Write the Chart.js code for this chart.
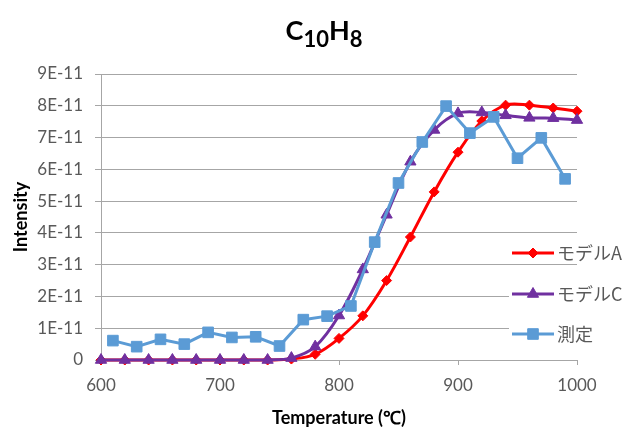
<!DOCTYPE html>
<html>
<head>
<meta charset="utf-8">
<script src="https://cdn.jsdelivr.net/npm/chart.js@4.4.1/dist/chart.umd.min.js"></script>
<style>
  html, body { margin: 0; padding: 0; background: #fff; }
  #wrap { width: 632px; height: 432px; position: relative; }
</style>
</head>
<body>
<div id="wrap"><canvas id="c" width="632" height="432"></canvas></div>
<script>
// Temperatures (°C) and intensities in units of 1E-11
const modelTemps = [600, 620, 640, 660, 680, 700, 720, 740, 760, 780, 800, 820, 840, 860, 880, 900, 920, 940, 960, 980, 1000];
const modelA = [0, 0, 0, 0, 0, 0, 0, 0, 0.03, 0.18, 0.68, 1.39, 2.50, 3.87, 5.29, 6.54, 7.52, 8.02, 8.02, 7.93, 7.83];
const modelC = [0, 0, 0, 0, 0, 0, 0, 0, 0.06, 0.42, 1.40, 2.85, 4.57, 6.24, 7.24, 7.76, 7.79, 7.70, 7.62, 7.61, 7.55];
const measuredTemps = [610, 630, 650, 670, 690, 710, 730, 750, 770, 790, 810, 830, 850, 870, 890, 910, 930, 950, 970, 990];
const measured = [0.61, 0.42, 0.65, 0.50, 0.87, 0.71, 0.73, 0.44, 1.27, 1.38, 1.70, 3.71, 5.57, 6.86, 7.99, 7.14, 7.65, 6.35, 6.99, 5.70];

const xTicks = [600, 700, 800, 900, 1000];
const yTicks = [0, 1, 2, 3, 4, 5, 6, 7, 8, 9];
const seriesNames = ['モデルA', 'モデルC', '測定'];
const seriesColors = ['#ff0000', '#7030a0', '#5b9bd5'];
const titleParts = [['C', false], ['10', true], ['H', false], ['8', true]];

const gridColor = '#a6a6a6';
const tickColor = '#595959';

function pts(xs, ys) { return xs.map((x, i) => ({ x: x, y: ys[i] })); }

// Title with subscripts
const titlePlugin = {
  id: 'formulaTitle',
  afterDraw(chart) {
    const ctx = chart.ctx;
    const mainFont = 'bold 27px Lato';
    const subFont = 'bold 22px Lato';
    ctx.save();
    let total = 0;
    const widths = titleParts.map(([t, sub]) => {
      ctx.font = sub ? subFont : mainFont;
      const w = ctx.measureText(t).width;
      total += w;
      return w;
    });
    let x = 324 - total / 2;
    ctx.fillStyle = '#000';
    ctx.textBaseline = 'alphabetic';
    ctx.textAlign = 'left';
    titleParts.forEach(([t, sub], i) => {
      ctx.font = sub ? subFont : mainFont;
      ctx.fillText(t, x, sub ? 47 : 40);
      x += widths[i];
    });
    ctx.restore();
  }
};

// Legend box at the lower right of the plot
function drawMarker(ctx, style, x, y, color) {
  ctx.fillStyle = color;
  ctx.strokeStyle = color;
  ctx.lineWidth = 1;
  ctx.beginPath();
  if (style === 'rectRot') {
    ctx.moveTo(x, y - 5); ctx.lineTo(x + 5, y); ctx.lineTo(x, y + 5); ctx.lineTo(x - 5, y);
  } else if (style === 'triangle') {
    ctx.moveTo(x, y - 6.5); ctx.lineTo(x + 5.6, y + 3.25); ctx.lineTo(x - 5.6, y + 3.25);
  } else {
    ctx.rect(x - 5.3, y - 5.3, 10.6, 10.6);
  }
  ctx.closePath();
  ctx.fill();
  ctx.stroke();
}

const legendPlugin = {
  id: 'sideLegend',
  afterDraw(chart) {
    const ctx = chart.ctx;
    const styles = ['rectRot', 'triangle', 'rect'];
    const ys = [253, 294, 334];
    ctx.save();
    ctx.fillStyle = '#fff';
    ctx.fillRect(509, 272, 123, 78);
    seriesNames.forEach((name, i) => {
      const y = ys[i];
      ctx.strokeStyle = seriesColors[i];
      ctx.lineWidth = 3;
      ctx.beginPath();
      ctx.moveTo(512, y);
      ctx.lineTo(554, y);
      ctx.stroke();
      drawMarker(ctx, styles[i], 533, y, seriesColors[i]);
      ctx.fillStyle = tickColor;
      ctx.font = '18px "Noto Sans CJK JP"';
      ctx.textBaseline = 'middle';
      ctx.textAlign = 'left';
      ctx.fillText(name, 557, y);
    });
    ctx.restore();
  }
};

new Chart(document.getElementById('c'), {
  type: 'line',
  data: {
    datasets: [
      {
        label: seriesNames[0],
        data: pts(modelTemps, modelA),
        borderColor: seriesColors[0],
        backgroundColor: seriesColors[0],
        borderWidth: 3,
        pointStyle: 'rectRot',
        pointRadius: 5,
        pointBorderWidth: 1,
        tension: 0.35,
        clip: false,
        order: 2
      },
      {
        label: seriesNames[1],
        data: pts(modelTemps, modelC),
        borderColor: seriesColors[1],
        backgroundColor: seriesColors[1],
        borderWidth: 3,
        pointStyle: 'triangle',
        pointRadius: 6.5,
        pointBorderWidth: 1,
        tension: 0.35,
        clip: false,
        order: 1
      },
      {
        label: seriesNames[2],
        data: pts(measuredTemps, measured),
        borderColor: seriesColors[2],
        backgroundColor: seriesColors[2],
        borderWidth: 3,
        pointStyle: 'rect',
        pointRadius: 7.5,
        pointBorderWidth: 1,
        tension: 0,
        clip: false,
        order: 0
      }
    ]
  },
  options: {
    responsive: false,
    animation: false,
    devicePixelRatio: 1,
    layout: { padding: { top: 74, right: 55, left: 0, bottom: 0 } },
    plugins: {
      legend: { display: false },
      title: { display: false },
      tooltip: { enabled: false }
    },
    scales: {
      x: {
        type: 'linear',
        min: 600,
        max: 1000,
        afterBuildTicks(scale) { scale.ticks = xTicks.map(v => ({ value: v })); },
        afterFit(scale) { scale.height = 72; },
        grid: { drawOnChartArea: false, drawTicks: true, tickLength: 5, color: gridColor },
        border: { color: gridColor, width: 1 },
        ticks: {
          font: { family: 'Lato', size: 17 },
          color: tickColor,
          padding: 10,
          maxRotation: 0,
          callback: v => String(v)
        },
        title: {
          display: true,
          text: 'Temperature (℃)',
          font: { family: 'Lato', size: 18, weight: 'bold' },
          color: '#000',
          padding: { top: 0, bottom: 3 }
        }
      },
      y: {
        min: 0,
        max: 9,
        afterBuildTicks(scale) { scale.ticks = yTicks.map(v => ({ value: v })); },
        afterFit(scale) { scale.width = 101; },
        grid: { color: gridColor, tickLength: 6 },
        border: { color: gridColor, width: 1 },
        ticks: {
          font: { family: 'Lato', size: 17 },
          color: tickColor,
          padding: 12,
          callback: v => (v === 0 ? '0' : v + 'E-11')
        },
        title: {
          display: true,
          text: 'Intensity',
          font: { family: 'Lato', size: 18, weight: 'bold' },
          color: '#000',
          padding: { top: 10, bottom: 0 }
        }
      }
    }
  },
  plugins: [titlePlugin, legendPlugin]
});
</script>
</body>
</html>
